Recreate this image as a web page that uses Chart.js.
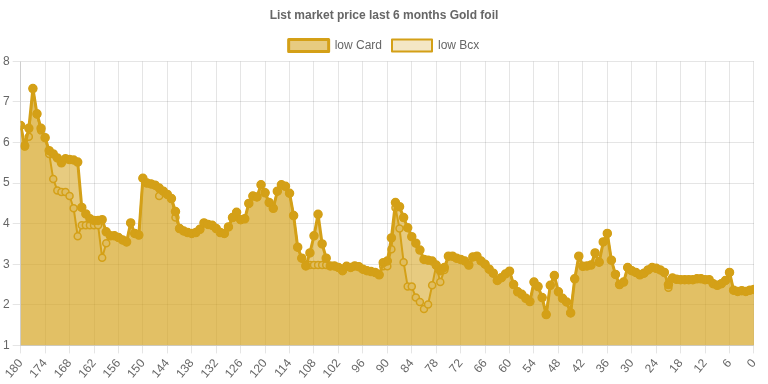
<!DOCTYPE html>
<html>
<head>
<meta charset="utf-8">
<script src="https://cdn.jsdelivr.net/npm/chart.js@4/dist/chart.umd.min.js"></script>
<style>
html,body{margin:0;padding:0;background:#fff;}
#wrap{width:768px;height:384px;position:relative;}
</style>
</head>
<body>
<div id="wrap"><canvas id="c"></canvas></div>
<script>
const daysAgo = [180,179,178,177,176,175,174,173,172,171,170,169,168,167,166,165,164,163,162,161,160,159,158,157,156,155,154,153,152,151,150,149,148,147,146,145,144,143,142,141,140,139,138,137,136,135,134,133,132,131,130,129,128,127,126,125,124,123,122,121,120,119,118,117,116,115,114,113,112,111,110,109,108,107,106,105,104,103,102,101,100,99,98,97,96,95,94,93,92,91,90,89,88,87,86,85,84,83,82,81,80,79,78,77,76,75,74,73,72,71,70,69,68,67,66,65,64,63,62,61,60,59,58,57,56,55,54,53,52,51,50,49,48,47,46,45,44,43,42,41,40,39,38,37,36,35,34,33,32,31,30,29,28,27,26,25,24,23,22,21,20,19,18,17,16,15,14,13,12,11,10,9,8,7,6,5,4,3,2,1,0];

const lowCard = [
6.42,5.92,6.35,7.33,6.71,6.35,6.12,5.8,5.72,5.62,
5.5,5.6,5.58,5.57,5.52,4.4,4.24,4.12,4.08,4.08,
4.1,3.8,3.7,3.7,3.66,3.6,3.55,4.02,3.76,3.72,
5.12,5.0,4.98,4.95,4.88,4.8,4.72,4.62,4.3,3.88,
3.82,3.78,3.76,3.78,3.86,4.02,3.98,3.96,3.88,3.78,
3.76,3.92,4.15,4.28,4.1,4.12,4.5,4.68,4.66,4.96,
4.76,4.52,4.38,4.8,4.96,4.92,4.75,4.2,3.42,3.15,
2.96,3.28,3.7,4.23,3.5,3.15,2.96,2.96,2.92,2.84,
2.95,2.92,2.96,2.94,2.88,2.84,2.82,2.8,2.74,3.04,
3.08,3.65,4.52,4.42,4.15,3.9,3.68,3.52,3.35,3.12,
3.1,3.08,2.98,2.84,2.92,3.2,3.2,3.15,3.12,3.08,
2.98,3.18,3.2,3.08,3.0,2.88,2.78,2.6,2.67,2.76,
2.83,2.5,2.32,2.26,2.16,2.08,2.56,2.45,2.18,1.76,
2.48,2.72,2.32,2.16,2.07,1.8,2.64,3.2,2.95,2.96,
2.98,3.28,3.05,3.55,3.76,3.1,2.75,2.5,2.56,2.92,
2.84,2.8,2.74,2.78,2.86,2.92,2.9,2.86,2.8,2.5,
2.66,2.63,2.62,2.62,2.62,2.62,2.64,2.64,2.62,2.62,
2.52,2.48,2.52,2.6,2.8,2.36,2.33,2.35,2.33,2.36,2.38];

const lowBcx = [
6.42,5.9,6.14,7.33,6.69,6.3,6.12,5.72,5.1,4.82,
4.78,4.78,4.68,4.38,3.69,3.96,3.96,3.96,3.96,3.96,
3.16,3.52,3.7,3.7,3.66,3.6,3.55,4.02,3.76,3.72,
5.12,5.0,4.98,4.95,4.68,4.8,4.72,4.62,4.15,3.88,
3.82,3.78,3.76,3.78,3.86,4.02,3.98,3.96,3.88,3.78,
3.76,3.92,4.15,4.28,4.1,4.12,4.5,4.68,4.66,4.96,
4.76,4.52,4.38,4.8,4.96,4.92,4.75,4.2,3.42,3.15,
2.98,2.98,2.98,2.98,2.98,2.98,2.96,2.96,2.92,2.84,
2.95,2.92,2.96,2.94,2.88,2.84,2.82,2.8,2.74,2.95,
2.95,3.37,4.39,3.88,3.05,2.45,2.45,2.18,2.07,1.9,
2.01,2.48,2.97,2.56,2.86,3.2,3.2,3.15,3.12,3.08,
2.98,3.18,3.2,3.08,3.0,2.88,2.78,2.6,2.67,2.76,
2.83,2.5,2.32,2.26,2.16,2.08,2.56,2.45,2.18,1.76,
2.48,2.72,2.32,2.16,2.07,1.8,2.64,3.2,2.95,2.96,
2.98,3.28,3.05,3.55,3.76,3.1,2.75,2.5,2.56,2.92,
2.84,2.8,2.74,2.78,2.86,2.92,2.9,2.86,2.8,2.42,
2.66,2.63,2.62,2.62,2.62,2.62,2.64,2.64,2.62,2.62,
2.52,2.48,2.52,2.6,2.8,2.36,2.33,2.35,2.33,2.36,2.38];

const seriesNames = ['low Card','low Bcx'];
const titleText = 'List market price last 6 months Gold foil';

Chart.defaults.font.family = "Arial, 'Liberation Sans', Helvetica, sans-serif";
Chart.defaults.font.size = 12;
Chart.defaults.color = '#666';

const gold = 'rgb(212,160,23)';

new Chart(document.getElementById('c'), {
  type: 'line',
  data: {
    labels: daysAgo,
    datasets: [
      {
        label: seriesNames[0],
        data: lowCard,
        borderColor: gold,
        backgroundColor: 'rgba(212,160,23,0.55)',
        borderWidth: 3,
        borderJoinStyle: 'round',
        pointRadius: 4,
        pointBorderWidth: 1.5,
        pointBackgroundColor: gold,
        pointBorderColor: gold,
        fill: 'start',
        tension: 0
      },
      {
        label: seriesNames[1],
        data: lowBcx,
        borderColor: gold,
        backgroundColor: 'rgba(212,160,23,0.25)',
        borderWidth: 2,
        borderJoinStyle: 'round',
        pointRadius: 3.5,
        pointBorderWidth: 1.5,
        pointBackgroundColor: 'rgba(240,225,185,1)',
        pointBorderColor: gold,
        fill: 'start',
        tension: 0
      }
    ]
  },
  options: {
    responsive: true,
    maintainAspectRatio: false,
    animation: false,
    plugins: {
      title: { display: true, text: titleText, font: { weight: 'bold', size: 12 }, color: '#666', padding: { top: 8, bottom: 7 } },
      legend: { display: true, labels: { boxWidth: 40, color: '#666' } },
      tooltip: { enabled: false }
    },
    scales: {
      x: {
        type: 'linear',
        reverse: true,
        min: 0,
        max: 180,
        ticks: { stepSize: 6, maxRotation: 50, minRotation: 50, autoSkip: false },
        grid: { color: 'rgba(0,0,0,0.1)' }
      },
      y: {
        min: 1,
        max: 8,
        ticks: { stepSize: 1 },
        grid: { color: 'rgba(0,0,0,0.1)' }
      }
    }
  }
});
</script>
</body>
</html>
